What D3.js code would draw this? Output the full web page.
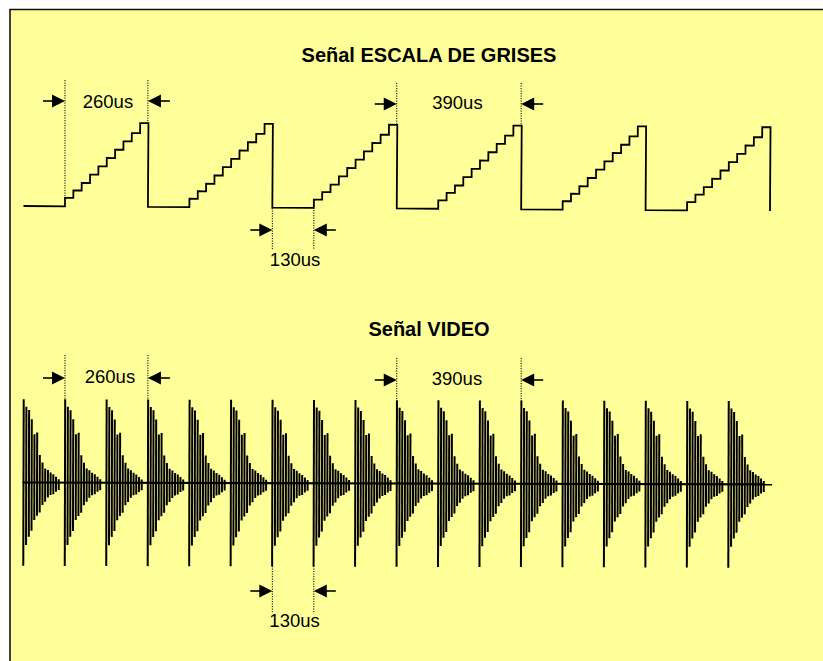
<!DOCTYPE html>
<html>
<head>
<meta charset="utf-8">
<script src="https://cdn.jsdelivr.net/npm/d3@7/dist/d3.min.js"></script>
<style>
  html, body { margin: 0; padding: 0; background: #fff; overflow: hidden; }
  svg { display: block; font-family: Arial, 'Liberation Sans', sans-serif; }
</style>
</head>
<body>
<svg class="signal-chart" width="823" height="661"></svg>
<script>
// all times in microseconds
const titles = ['Señal ESCALA DE GRISES', 'Señal VIDEO'];

// grayscale: falling edge of every sawtooth, then 130us flat + 260us staircase
const grayFalls = [390, 780, 1170, 1560, 1950, 2340];
const flatTime = 130;
const rampTime = 260;
const stepOffsets = [0, 26, 52, 78, 104, 130, 156, 182, 208, 234];
const stepLevels = [0.10, 0.19, 0.28, 0.38, 0.48, 0.58, 0.68, 0.78, 0.88, 1.00];

// video: one decaying burst every 130us
const burstStarts = [0, 130, 260, 390, 520, 650, 780, 910, 1040, 1170, 1300, 1430, 1560, 1690, 1820, 1950, 2080, 2210];
const burstOffsets = [0, 8.5, 17, 25.5, 34, 42.5, 51, 59.5, 68, 76.5, 85, 93.5, 102, 110.5];
const burstTop = [1.00, 0.91, 0.87, 0.76, 0.58, 0.60, 0.33, 0.24, 0.17, 0.15, 0.12, 0.10, 0.07, 0.04];
const burstBottom = [1.00, 0.75, 0.65, 0.58, 0.45, 0.40, 0.36, 0.27, 0.23, 0.18, 0.15, 0.14, 0.11, 0.09];
const videoEnd = 2346;

// dimension marks: [from, to, label]
const grayMarks = [[130, 390, '260us'], [1170, 1560, '390us'], [780, 910, '130us']];
const videoMarks = [[130, 390, '260us'], [1170, 1560, '390us'], [780, 910, '130us']];


const svg = d3.select('.signal-chart');

// panel: only left and top edges fall inside the picture
svg.append('rect')
  .attr('x', 10)
  .attr('y', 9.5)
  .attr('width', 813)
  .attr('height', 652)
  .attr('fill', '#ffff99');

svg.append('path')
  .attr('d', 'M10 661 L10 9.5 L823 9.5')
  .attr('fill', 'none')
  .attr('stroke', '#111')
  .attr('stroke-width', 1.6);

const xScale = d3.scaleLinear()
  .domain([0, 2340])
  .range([23.5, 770]);

const yGray = d3.scaleLinear()
  .domain([0, 1])
  .range([206, 122.3]);

const yVideo = d3.scaleLinear()
  .domain([-1, 1])
  .range([565.8, 399.2]);


/*
 ** Titles
 */
svg.selectAll('text.title')
  .data(titles)
  .enter()
  .append('text')
  .attr('class', 'title')
  .attr('x', 429)
  .attr('y', (d, i) => i === 0 ? 62 : 336)
  .attr('text-anchor', 'middle')
  .attr('font-size', 20)
  .attr('font-weight', 'bold')
  .attr('fill', '#000')
  .text(d => d);


/*
 ** Grayscale staircase
 */
const grayPoints = [[0, 0]];
grayFalls.forEach(f => {
  const rampStart = f - rampTime;
  stepOffsets.forEach((o, i) => grayPoints.push([rampStart + o, stepLevels[i]]));
  grayPoints.push([f, 0]);
});

const grayLine = d3.line()
  .x(d => xScale(d[0]))
  .y(d => yGray(d[1]))
  .curve(d3.curveStepAfter);

svg.append('g')
  .attr('transform', `rotate(0.38, ${xScale(0)}, ${yGray(0)})`)
  .append('path')
  .attr('d', grayLine(grayPoints))
  .attr('fill', 'none')
  .attr('stroke', '#000')
  .attr('stroke-width', 1.8);


/*
 ** Video bursts
 */
const videoGroup = svg.append('g')
  .attr('transform', `rotate(0.15, ${xScale(0)}, ${yVideo(0)})`);

const bursts = [];
burstStarts.forEach(b => {
  burstOffsets.forEach((o, j) => {
    bursts.push({ t: b + o, top: burstTop[j], bottom: burstBottom[j] });
  });
});

videoGroup.selectAll('line.burst')
  .data(bursts)
  .enter()
  .append('line')
  .attr('class', 'burst')
  .attr('x1', d => xScale(d.t))
  .attr('x2', d => xScale(d.t))
  .attr('y1', d => yVideo(d.top))
  .attr('y2', d => yVideo(-d.bottom))
  .attr('stroke', '#000')
  .attr('stroke-width', 2);

videoGroup.append('line')
  .attr('x1', xScale(0) - 1)
  .attr('x2', xScale(videoEnd))
  .attr('y1', yVideo(0))
  .attr('y2', yVideo(0))
  .attr('stroke', '#000')
  .attr('stroke-width', 2.2);


/*
 ** Dimension marks
 */
const drawArrow = (g, tip, y, dir) => {
  g.append('line')
    .attr('x1', tip - dir * 22)
    .attr('x2', tip - dir * 10)
    .attr('y1', y)
    .attr('y2', y)
    .attr('stroke', '#000')
    .attr('stroke-width', 1.6);
  g.append('path')
    .attr('d', `M${tip} ${y} L${tip - dir * 13} ${y - 6.5} L${tip - dir * 13} ${y + 6.5} Z`)
    .attr('fill', '#000');
};

const drawMark = (m, lay) => {
  const g = svg.append('g').attr('class', 'mark');
  const x1 = xScale(m[0]);
  const x2 = xScale(m[1]);
  [[x1, lay.a1], [x2, lay.a2]].forEach(d => {
    g.append('line')
      .attr('x1', d[0])
      .attr('x2', d[0])
      .attr('y1', d[1][0])
      .attr('y2', d[1][1])
      .attr('stroke', '#000')
      .attr('stroke-width', 1)
      .attr('stroke-dasharray', '1.2,1.3');
  });
  drawArrow(g, x1, lay.y, 1);
  drawArrow(g, x2, lay.y, -1);
  g.append('text')
    .attr('x', (x1 + x2) / 2 + lay.dx)
    .attr('y', lay.base)
    .attr('text-anchor', 'middle')
    .attr('font-size', 18.5)
    .attr('fill', '#000')
    .text(m[2]);
};

const grayLayout = [
  { y: 101, base: 107.5, dx: 1.5, a1: [80, 198], a2: [80, 122] },
  { y: 104, base: 108.5, dx: -1.5, a1: [83, 125], a2: [83, 126] },
  { y: 230, base: 266, dx: 2, a1: [208, 250], a2: [200, 250] }
];
const videoLayout = [
  { y: 378, base: 383, dx: 3.5, a1: [355, 399], a2: [355, 400] },
  { y: 380, base: 384.5, dx: -2, a1: [358, 400], a2: [358, 401] },
  { y: 591, base: 627, dx: 1.5, a1: [566, 613], a2: [566, 613] }
];

grayMarks.forEach((m, i) => drawMark(m, grayLayout[i]));
videoMarks.forEach((m, i) => drawMark(m, videoLayout[i]));
</script>
</body>
</html>
